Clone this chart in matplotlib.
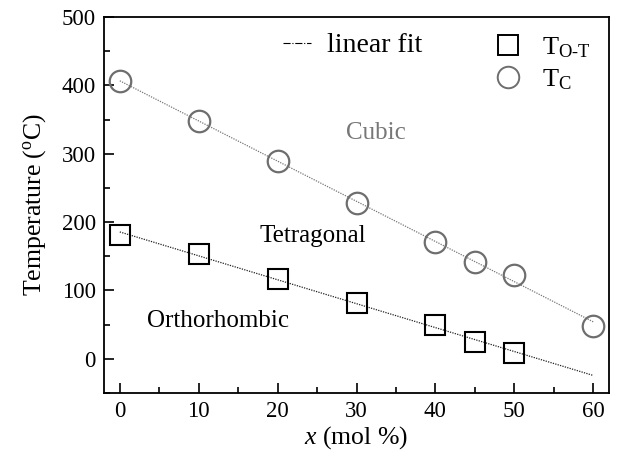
import numpy as np
import matplotlib
matplotlib.use('Agg')
import matplotlib.pyplot as plt
from matplotlib.lines import Line2D
from matplotlib.ticker import MultipleLocator

plt.rcParams['font.family'] = ['Liberation Serif', 'DejaVu Serif']
plt.rcParams['mathtext.fontset'] = 'custom'
plt.rcParams['mathtext.rm'] = 'Liberation Serif'
plt.rcParams['mathtext.it'] = 'Liberation Serif:italic'

# data
x_c = [0, 10, 20, 30, 40, 45, 50, 60]
t_c = [406, 348, 290, 228, 171, 142, 122, 48]
x_ot = [0, 10, 20, 30, 40, 45, 50]
t_ot = [181, 154, 117, 82, 50, 25, 8]

fig = plt.figure(figsize=(6.18, 4.59), dpi=100)
ax = fig.add_axes([104/618, 1-393/459, (609-104)/618, (393-17)/459])

xf = np.array([0, 60])
pc = np.polyfit(x_c, t_c, 1)
po = np.polyfit(x_ot, t_ot, 1)
ax.plot(xf, np.polyval(pc, xf), ls=(0, (1, 1)), color='#777777', lw=0.9)
ax.plot(xf, np.polyval(po, xf), ls=(0, (1, 1)), color='#222222', lw=0.9)

ax.plot(x_c, t_c, 'o', ms=15.5, mfc='none', mec='#6e6e6e', mew=1.6)
ax.plot(x_ot, t_ot, 's', ms=14, mfc='none', mec='black', mew=1.5)

ax.text(32.5, 331, 'Cubic', color='#777777', fontsize=18, ha='center', va='center')
ax.text(24.5, 180, 'Tetragonal', fontsize=18, ha='center', va='center')
ax.text(12.4, 56, 'Orthorhombic', fontsize=18, ha='center', va='center')

ax.set_xlim(-2, 62)
ax.set_ylim(-50, 500)
ax.xaxis.set_major_locator(MultipleLocator(10))
ax.xaxis.set_minor_locator(MultipleLocator(5))
ax.yaxis.set_major_locator(MultipleLocator(100))
ax.yaxis.set_minor_locator(MultipleLocator(50))
ax.tick_params(which='both', direction='in', labelsize=16.5, width=1.2)
ax.tick_params(which='major', length=7, pad=6)
ax.tick_params(which='minor', length=4)
for s in ax.spines.values():
    s.set_linewidth(1.3)

ax.set_xlabel(r'$\mathit{x}$ (mol %)', fontsize=18.5, labelpad=1)
ax.set_ylabel(r'Temperature ($\mathregular{^o}$C)', fontsize=18.5, labelpad=10)

h1 = [Line2D([], [], ls='-.', color='black', lw=0.8)]
fig.legend(h1, ['linear fit'], loc='upper left', bbox_to_anchor=(283/618, 1-33/459),
           frameon=False, fontsize=20, handlelength=1.0, handletextpad=0.6,
           borderaxespad=0, borderpad=0)
h2 = [Line2D([], [], ls='none', marker='s', ms=14, mfc='none', mec='black', mew=1.4),
      Line2D([], [], ls='none', marker='o', ms=15.5, mfc='none', mec='#6e6e6e', mew=1.4)]
fig.legend(h2, [r'T$_{\mathregular{O\text{-}T}}$', r'T$_{\mathregular{C}}$'], loc='upper left',
           bbox_to_anchor=(495/618, 1-35/459), frameon=False, fontsize=19,
           handlelength=1.0, handletextpad=0.8, labelspacing=0.3,
           borderaxespad=0, borderpad=0)

fig.savefig('out.png', dpi=100)
